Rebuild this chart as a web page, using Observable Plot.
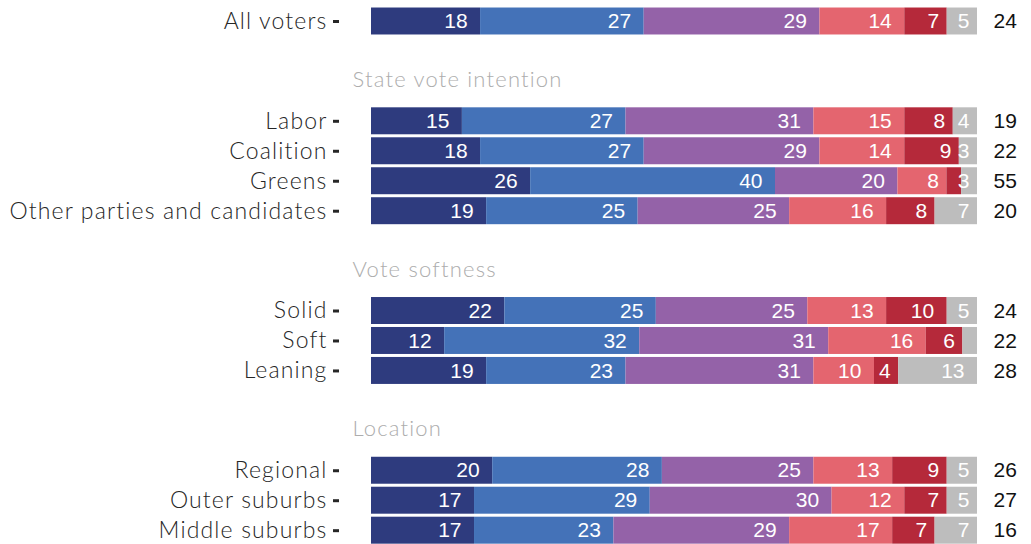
<!DOCTYPE html>
<html><head><meta charset="utf-8">
<script src="https://cdn.jsdelivr.net/npm/d3@7"></script>
<script src="https://cdn.jsdelivr.net/npm/@observablehq/plot@0.6"></script>
<style>
body{margin:0;background:#fff;}
#chart svg{display:block}
g[aria-label="y-axis tick label"] text{letter-spacing:1.15px}
g.hdr text{letter-spacing:1.2px}
</style></head><body><div id="chart"></div>
<script>
const categories = ["Strongly support","Support","Neutral","Oppose","Strongly oppose","Unsure"];
const colors = ["#2e3b7e","#4472b8","#9462a8","#e4656f","#b5293a","#bdbdbd"];
const groupHeaders = ["", "State vote intention", "Vote softness", "Location"];
const groupRows = [
  ["All voters"],
  ["Labor","Coalition","Greens","Other parties and candidates"],
  ["Solid","Soft","Leaning"],
  ["Regional","Outer suburbs","Middle suburbs"]
];
const stronglySupport = [18,15,18,26,19,22,12,19,20,17,17];
const support         = [27,27,27,40,25,25,32,23,28,29,23];
const neutral         = [29,31,29,20,25,25,31,31,25,30,29];
const oppose          = [14,15,14, 8,16,13,16,10,13,12,17];
const stronglyOppose  = [ 7, 8, 9,2.4,8,10, 6, 4, 9, 7, 7];
const unsure          = [ 5, 4, 3,2.6,7, 5,2.4,13,5, 5, 7];
const net             = [24,19,22,55,20,24,22,28,26,27,16];

const series = [stronglySupport, support, neutral, oppose, stronglyOppose, unsure];

// layout in row units
const groupGap = 3.33, headerOffset = 1.95, barHalf = 0.45;
const rows = [], headers = [];
let pos = 0, idx = 0;
groupRows.forEach((g, gi) => {
  if (gi > 0) {
    headers.push({label: groupHeaders[gi], pos: pos - 1 + headerOffset});
    pos += groupGap - 1;
  }
  g.forEach(label => {
    rows.push({label, pos, net: net[idx], values: series.map(s => s[idx])});
    idx++; pos += 1;
  });
});
const segs = [];
rows.forEach(r => {
  const total = d3.sum(r.values);
  let cum = 0;
  r.values.forEach((v, k) => {
    const x1 = cum / total * 100; cum += v;
    segs.push({label: r.label, pos: r.pos, category: categories[k], value: v, x1, x2: cum / total * 100});
  });
});
const labelMap = new Map(rows.map(r => [r.pos, r.label]));
const shown = segs.filter(d => d.value >= 2.5);
const oneDigit = shown.filter(d => Math.round(d.value) < 10);
const twoDigit = shown.filter(d => Math.round(d.value) >= 10);

const chart = Plot.plot({
  width: 1031, height: 544,
  marginLeft: 371, marginRight: 54, marginTop: 0, marginBottom: 0,
  x: {domain: [0, 100], axis: null},
  y: {domain: [17.451, -0.7007]},
  color: {domain: categories, range: colors},
  style: {fontFamily: "'Liberation Sans', Arial, sans-serif", background: "white"},
  marks: [
    Plot.rect(segs, {x1: "x1", x2: "x2", y1: d => d.pos - barHalf, y2: d => d.pos + barHalf, fill: "category"}),
    Plot.text(twoDigit, {x: "x2", y: "pos", text: d => String(Math.round(d.value)), textAnchor: "end", dx: -13, fill: "white", fontSize: 21}),
    Plot.text(oneDigit, {x: "x2", y: "pos", text: d => String(Math.round(d.value)), textAnchor: "end", dx: -8, fill: "white", fontSize: 21}),
    Plot.axisY({ticks: rows.map(r => r.pos), tickFormat: p => labelMap.get(p), anchor: "left", dx: -32, tickSize: 6, tickPadding: 6, strokeWidth: 3, fontSize: 23, fontFamily: "Lato", fontWeight: 300, color: "#262626", label: null}),
    Plot.text(headers, {frameAnchor: "left", y: "pos", text: "label", textAnchor: "start", dx: -19, fill: "#adadad", fontSize: 22, fontFamily: "Lato", fontWeight: 300, className: "hdr"}),
    Plot.text(rows, {frameAnchor: "right", y: "pos", text: d => String(d.net), textAnchor: "start", dx: 16, fill: "#111", fontSize: 21})
  ]
});
document.getElementById("chart").appendChild(chart);
</script></body></html>
